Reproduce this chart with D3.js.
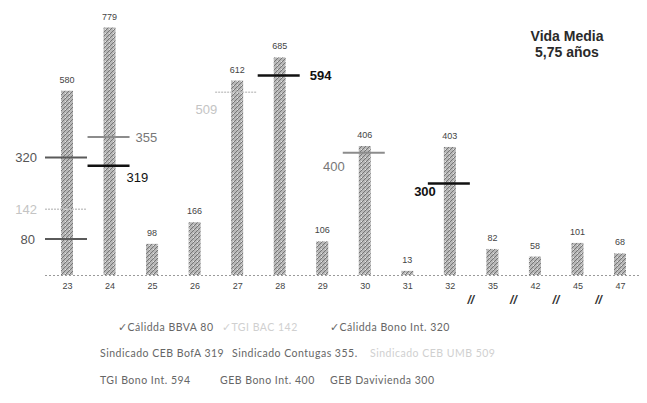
<!DOCTYPE html>
<html>
<head>
<meta charset="utf-8">
<script src="https://cdn.jsdelivr.net/npm/d3@7"></script>
<style>
  body { margin: 0; background: #fff; }
  svg { display: block; font-family: Arial, "Liberation Sans", sans-serif; }
</style>
</head>
<body>
<svg id="chart" width="647" height="403"></svg>
<script>
// Amortizaciones por año
const years = ["23", "24", "25", "26", "27", "28", "29", "30", "31", "32", "35", "42", "45", "47"];
const amounts = [580, 779, 98, 166, 612, 685, 106, 406, 13, 403, 82, 58, 101, 68];

// Marcadores de créditos (etiqueta y altura dibujada, en unidades del eje)
const markerYears = ["23", "23", "23", "24", "24", "27", "28", "30", "32"];
const markerLabels = ["320", "142", "80", "355", "319", "509", "594", "400", "300"];
const markerLevels = [370, 207, 113, 434, 344, 575, 628, 385, 288];
const markerTones = ["dark", "light", "dark", "mid", "black", "light", "black", "mid", "black"];

const legendRows = [
  ["\u2713Cálidda BBVA 80", "\u2713TGI BAC 142", "\u2713Cálidda Bono Int. 320"],
  ["Sindicado CEB BofA 319", "Sindicado Contugas 355.", "Sindicado CEB UMB 509"],
  ["TGI Bono Int. 594", "GEB Bono Int. 400", "GEB Davivienda 300"]
];
const legendFaded = [[false, true, false], [false, false, true], [false, false, false]];
const breakAfter = ["32", "35", "42", "45"];

const svg = d3.select("#chart");

// textura de barras
const defs = svg.append("defs");
const pat = defs.append("pattern")
  .attr("id", "hatch").attr("patternUnits", "userSpaceOnUse")
  .attr("width", 4).attr("height", 4);
pat.append("rect").attr("width", 4).attr("height", 4).attr("fill", "#b8b8b8");
pat.append("path").attr("d", "M0,4 L4,0 M-1,1 L1,-1 M3,5 L5,3")
  .attr("stroke", "#767676").attr("stroke-width", 1);
pat.append("rect").attr("x", 1).attr("y", 1).attr("width", 1).attr("height", 1).attr("fill", "#e6e6e6");

const x = d3.scalePoint().domain(years).range([67, 620]);
const y = d3.scaleLinear().domain([0, 779]).range([275, 27.5]);
const barW = 12;

// línea base punteada
svg.append("line")
  .attr("x1", 45).attr("x2", 640).attr("y1", y(0) + 0.5).attr("y2", y(0) + 0.5)
  .attr("stroke", "#9a9a9a").attr("stroke-width", 1).attr("stroke-dasharray", "2,2");

// barras
svg.append("g").selectAll("rect")
  .data(years)
  .join("rect")
  .attr("x", d => x(d) - barW / 2)
  .attr("y", (d, i) => y(amounts[i]))
  .attr("width", barW)
  .attr("height", (d, i) => y(0) - y(amounts[i]))
  .attr("fill", "url(#hatch)");

// valores
svg.append("g").selectAll("text")
  .data(years)
  .join("text")
  .attr("x", d => x(d))
  .attr("y", (d, i) => y(amounts[i]) - 8)
  .attr("text-anchor", "middle")
  .attr("font-size", 9)
  .attr("fill", "#444")
  .text((d, i) => amounts[i]);

// eje x
const xAxis = svg.append("g")
  .attr("transform", `translate(0,${y(0) + 4})`)
  .call(d3.axisBottom(x).tickSize(0).tickPadding(4));
xAxis.select(".domain").remove();
xAxis.selectAll("text").attr("font-size", 9).attr("fill", "#444")
  .attr("font-family", "Arial, 'Liberation Sans', sans-serif");

// cortes del eje
svg.append("g").selectAll("text")
  .data(breakAfter)
  .join("text")
  .attr("x", d => x(d) + 21)
  .attr("y", 304)
  .attr("text-anchor", "middle")
  .attr("font-size", 12)
  .attr("font-weight", "bold")
  .attr("font-style", "italic")
  .attr("fill", "#333")
  .text("//");

// marcadores
const toneColor = { dark: "#5a5a5a", light: "#c8c8c8", mid: "#8c8c8c", black: "#111" };
const toneText = { dark: "#555", light: "#c4c4c4", mid: "#777", black: "#111" };
const toneWidth = { dark: 2, light: 1.5, mid: 2, black: 2.5 };
// ubicación de cada etiqueta respecto a su marcador
const labelPlace = [
  { dx: -30, dy: 5, a: "end" }, { dx: -30, dy: 5, a: "end" }, { dx: -32, dy: 5, a: "end" },
  { dx: 26, dy: 5, a: "start" }, { dx: 17, dy: 16, a: "start" }, { dx: -20, dy: 22, a: "end" },
  { dx: 30, dy: 5, a: "start" }, { dx: -20, dy: 18, a: "end" }, { dx: -14, dy: 13, a: "end" }
];
const mk = svg.append("g");
markerYears.forEach((yr, i) => {
  const cx = x(yr);
  const cy = y(markerLevels[i]);
  const tone = markerTones[i];
  mk.append("line")
    .attr("x1", cx - 22).attr("x2", cx + 20)
    .attr("y1", cy).attr("y2", cy)
    .attr("stroke", toneColor[tone])
    .attr("stroke-width", toneWidth[tone])
    .attr("stroke-dasharray", tone === "light" ? "2,1" : null);
  const p = labelPlace[i];
  const bold = tone === "black" && markerLabels[i] !== "319";
  mk.append("text")
    .attr("x", cx + p.dx).attr("y", cy + p.dy)
    .attr("text-anchor", p.a)
    .attr("font-size", 13)
    .attr("font-weight", bold ? "bold" : "normal")
    .attr("fill", toneText[tone])
    .text(markerLabels[i]);
});

// título
const title = svg.append("text")
  .attr("x", 567).attr("y", 41)
  .attr("text-anchor", "middle")
  .attr("font-size", 14)
  .attr("font-weight", "bold")
  .attr("fill", "#2a2a2a");
title.append("tspan").attr("x", 567).text("Vida Media");
title.append("tspan").attr("x", 567).attr("dy", 16).text("5,75 años");

// leyenda
const legX = [[118, 222, 330], [100, 232, 370], [100, 220, 330]];
const legY = [331, 357, 384];
legendRows.forEach((row, r) => {
  row.forEach((txt, c) => {
    svg.append("text")
      .attr("x", legX[r][c]).attr("y", legY[r])
      .attr("font-family", "Lato, 'Open Sans', sans-serif")
      .attr("font-size", 10.5)
      .attr("letter-spacing", 0.5)
      .attr("fill", legendFaded[r][c] ? "#d0d0d0" : "#666")
      .text(txt);
  });
});
</script>
</body>
</html>
